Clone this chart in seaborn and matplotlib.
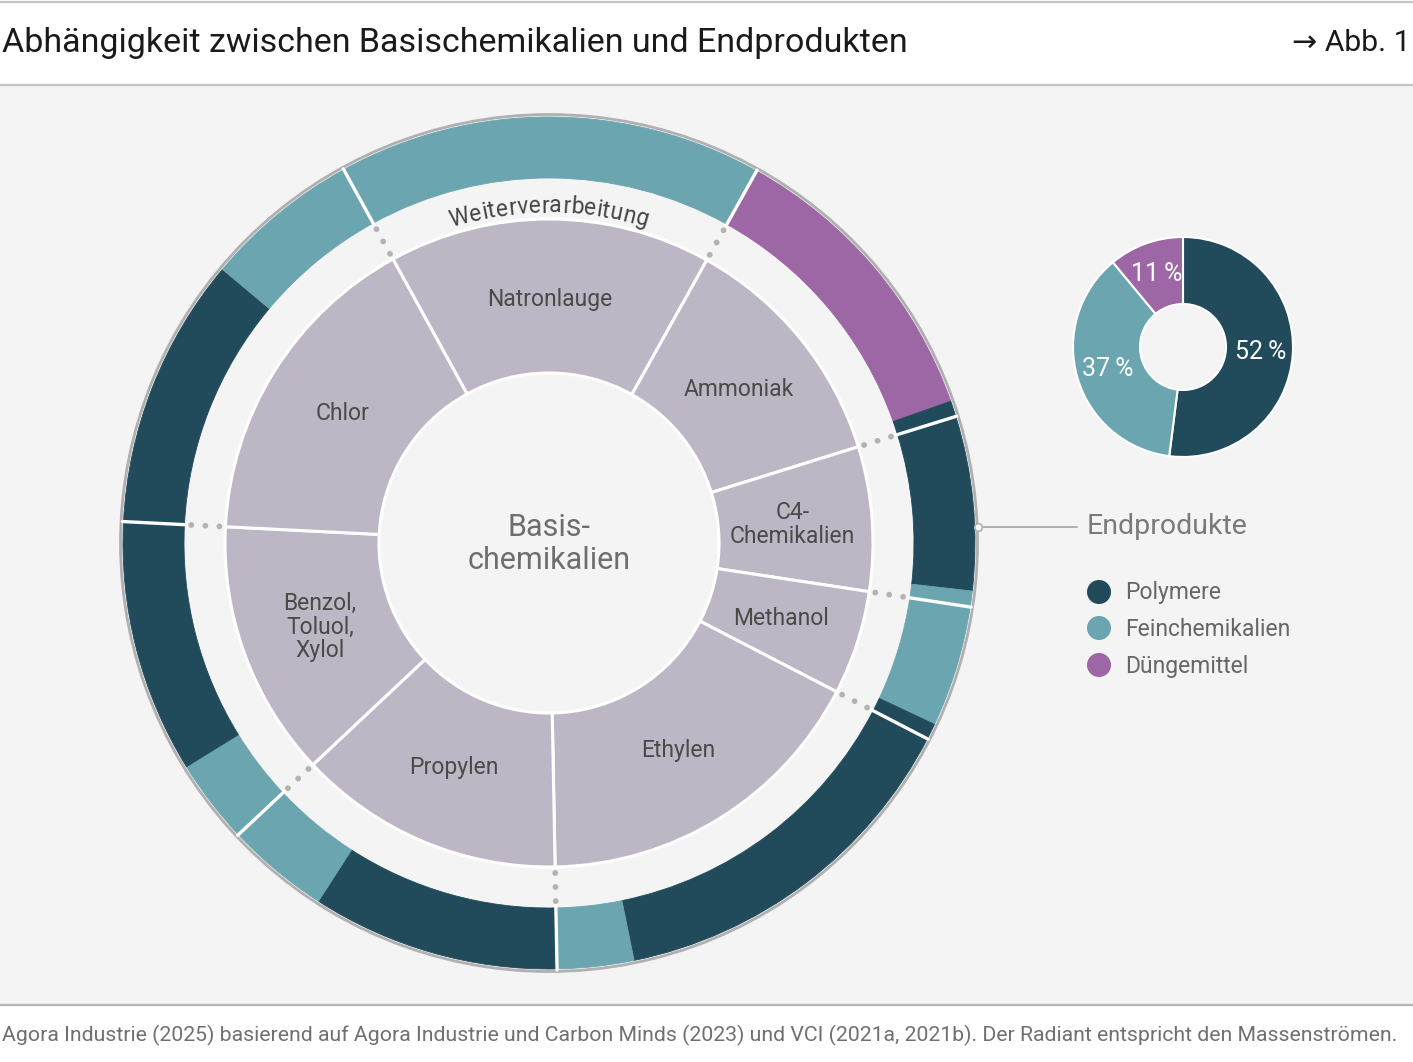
import numpy as np
import pandas as pd
import matplotlib as mpl
mpl.use('Agg')
import matplotlib.pyplot as plt
import seaborn as sns

sns.set_theme(style="white")
plt.rcParams['font.family'] = ['Roboto', 'DejaVu Sans']

# --- data -------------------------------------------------------------
# mass flows, % of total, clockwise from the top (Natronlauge first)
flow_basis = ["Natronlauge", "Ammoniak", "Ammoniak", "C4", "C4",
              "Methanol", "Methanol", "Ethylen", "Ethylen",
              "Propylen", "Propylen", "Benzol", "Benzol", "Chlor", "Chlor"]
flow_product = ["Feinchemikalien", "Düngemittel", "Polymere", "Polymere", "Feinchemikalien",
                "Feinchemikalien", "Polymere", "Polymere", "Feinchemikalien",
                "Polymere", "Feinchemikalien", "Feinchemikalien", "Polymere",
                "Polymere", "Feinchemikalien"]
flow_share = [16.1, 11.5, 0.6, 6.6, 0.6,
              4.6, 0.6, 14.2, 2.9,
              9.4, 3.9, 3.2, 9.6, 10.3, 5.9]

basis_labels = {"Natronlauge": "Natronlauge", "Ammoniak": "Ammoniak",
                "C4": "C4-\nChemikalien", "Methanol": "Methanol",
                "Ethylen": "Ethylen", "Propylen": "Propylen",
                "Benzol": "Benzol,\nToluol,\nXylol", "Chlor": "Chlor"}

products = ["Polymere", "Feinchemikalien", "Düngemittel"]
product_pct = [52, 37, 11]
product_colors = ["#214b5b", "#6ba5b0", "#9d66a4"]

title = "Abhängigkeit zwischen Basischemikalien und Endprodukten"
fig_ref = "\u2192 Abb. 1"
source = ("Agora Industrie (2025) basierend auf Agora Industrie und Carbon Minds (2023) "
          "und VCI (2021a, 2021b). Der Radiant entspricht den Massenströmen.")

df = pd.DataFrame({"basis": flow_basis, "product": flow_product, "share": flow_share})
inner = df.groupby("basis", sort=False)["share"].sum()
pal = dict(zip(products, product_colors))

# --- figure in pixel coordinates ---------------------------------------
W, H = 1413, 1062
fig = plt.figure(figsize=(W / 100, H / 100), dpi=100)
ax = fig.add_axes([0, 0, 1, 1])
renderer = fig.canvas.get_renderer()


def Y(py):
    return H - py


def fit_text(x, y, s, width, size, **kw):
    t = ax.text(x, y, s, fontsize=size, **kw)
    w = t.get_window_extent(renderer).width
    t.set_fontsize(size * width / w)
    return t


ax.axhspan(Y(1004), Y(86), color="#f4f4f4", zorder=0)
for yy, c in [(2, "#c4c4c4"), (85, "#c4c4c4"), (1005, "#b5b5b5")]:
    ax.axhline(Y(yy), color=c, lw=1.6, zorder=1)

fit_text(2, Y(43), title, 910, 23, ha="left", va="center", color="#1a1a1a")
fit_text(1411, Y(43), fig_ref, 119, 23, ha="right", va="center", color="#1a1a1a")
fit_text(2, Y(1035), source, 1405, 14, ha="left", va="center", color="#707070")

# --- main sunburst -----------------------------------------------------
cx, cy = 549, Y(543)
r_out, r_out_in, r_in, r_hole = 426, 365, 324, 170
start = -28.8                      # compass angle of first boundary
startangle = 90 - start
lilac = "#bdb6c4"

wedges, _ = ax.pie(inner.values, radius=r_in, center=(cx, cy), startangle=startangle,
                   counterclock=False, colors=[lilac] * len(inner),
                   wedgeprops=dict(width=r_in - r_hole, edgecolor="white", linewidth=2.2))
for w, key in zip(wedges, inner.index):
    mid = np.deg2rad((w.theta1 + w.theta2) / 2)
    ax.text(cx + 244 * np.cos(mid), cy + 244 * np.sin(mid), basis_labels[key],
            ha="center", va="center", fontsize=16.5, color="#4a4a4a", linespacing=1.05)

ow, _ = ax.pie(df["share"], radius=r_out, center=(cx, cy), startangle=startangle,
               counterclock=False, colors=[pal[p] for p in df["product"]],
               wedgeprops=dict(width=r_out - r_out_in, linewidth=0))
for w in ow:
    w.set_edgecolor(w.get_facecolor())
    w.set_linewidth(0.6)

ax.add_patch(plt.Circle((cx, cy), 428.5, fill=False, ec="#b0b0b0", lw=2.0, zorder=2))

bounds = start + np.concatenate([[0], np.cumsum(inner.values)[:-1]]) * 3.6
for b in bounds:
    a = np.deg2rad(b)
    s, c = np.sin(a), np.cos(a)
    ax.plot([cx + r_out_in * s - 2 * s, cx + (r_out + 1) * s],
            [cy + r_out_in * c - 2 * c, cy + (r_out + 1) * c], color="white", lw=2.4, zorder=3)
    ax.plot([cx + (r_in + 6) * s, cx + (r_out_in - 5) * s],
            [cy + (r_in + 6) * c, cy + (r_out_in - 5) * c], color="#b3b3b3", lw=4.2,
            linestyle=(0, (0.01, 2.4)), dash_capstyle="round", zorder=3)

ax.text(cx, Y(544), "Basis-\nchemikalien", ha="center", va="center",
        fontsize=22, color="#6e6e6e", linespacing=1.15)

# curved label in the gap
word = "Weiterverarbeitung"
fs_arc = 16.5
r_txt = 337
widths = []
for ch in word:
    t = ax.text(0, 0, ch, fontsize=fs_arc)
    widths.append(t.get_window_extent(renderer).width)
    t.remove()
track = 1.05
total = sum(widths) * track
pos = -total / 2
for ch, wd in zip(word, widths):
    phi = (pos + wd * track / 2) / r_txt
    ax.text(cx + r_txt * np.sin(phi), cy + r_txt * np.cos(phi), ch, fontsize=fs_arc,
            color="#444444", rotation=-np.rad2deg(phi), rotation_mode="anchor",
            ha="center", va="center")
    pos += wd * track

# --- small donut -------------------------------------------------------
dx, dy = 1183, Y(347)
ax.pie(product_pct, radius=110, center=(dx, dy), startangle=90, counterclock=False,
       colors=product_colors, autopct=lambda p: f"{p:.0f}\u2009%", pctdistance=0.71,
       textprops=dict(color="white", fontsize=18),
       wedgeprops=dict(width=67, edgecolor="white", linewidth=1.5))

# --- legend ------------------------------------------------------------
ax.plot([cx + 429, 1077], [Y(527), Y(527)], color="#b0b0b0", lw=1.4, zorder=4)
ax.scatter([cx + 429], [Y(527)], s=30, facecolor="white", edgecolor="#b0b0b0", lw=1.2, zorder=5)
ax.text(1087, Y(527), "Endprodukte", ha="left", va="center", fontsize=20.5, color="#7a7a7a")
ly = [592, 628, 665]
ax.scatter([1099] * 3, [Y(v) for v in ly], s=300, c=product_colors, lw=0, zorder=5)
for v, name in zip(ly, products):
    ax.text(1125, Y(v) - 1, name, ha="left", va="center", fontsize=16.5, color="#666666")

ax.set_xlim(0, W)
ax.set_ylim(0, H)
ax.set_aspect("equal")
ax.axis("off")
fig.savefig("out.png", dpi=100, facecolor="white")
